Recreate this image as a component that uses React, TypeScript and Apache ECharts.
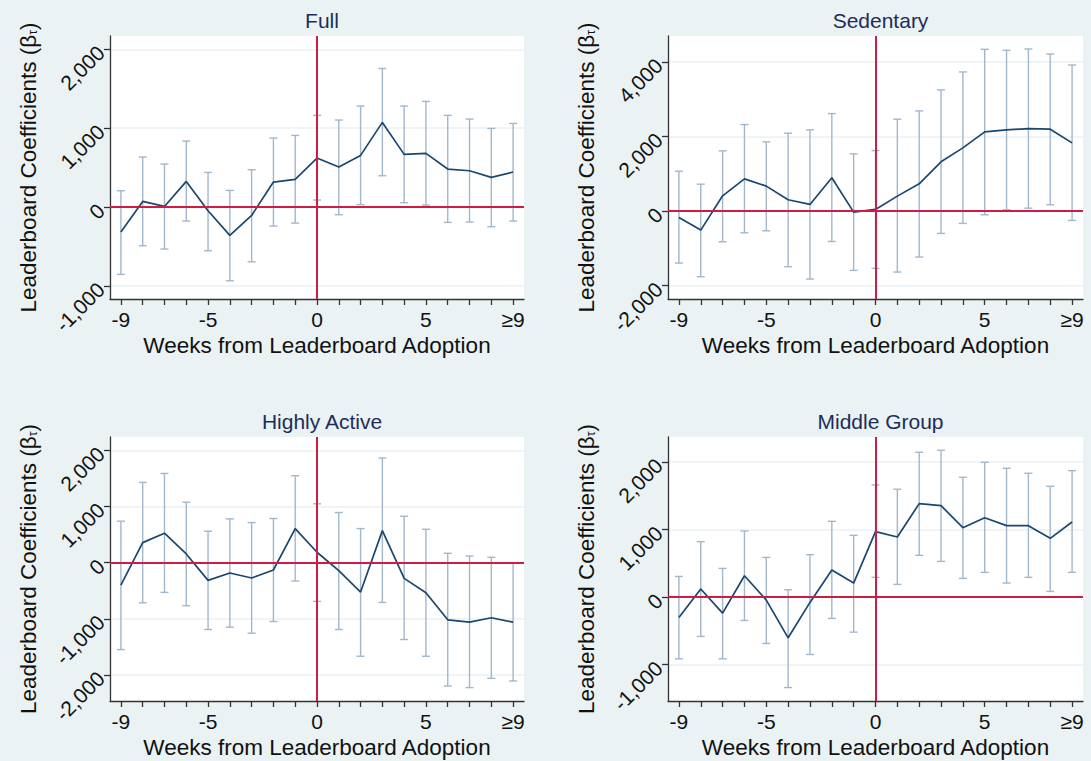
import React, { useEffect, useRef } from "react";
import * as echarts from "echarts";

const weeks = [-9, -8, -7, -6, -5, -4, -3, -2, -1, 0, 1, 2, 3, 4, 5, 6, 7, 8, 9];
const xTickLabels = [-9, -5, 0, 5, 9];
const panelTitles = ["Full", "Sedentary", "Highly Active", "Middle Group"];

const fullCoef = [-317, 72, 8, 325, -46, -359, -106, 317, 351, 621, 507, 655, 1073, 668, 680, 482, 460, 376, 444];
const fullHigh = [207, 634, 545, 836, 439, 211, 473, 874, 908, 1162, 1103, 1280, 1757, 1280, 1339, 1162, 1115, 997, 1060];
const fullLow = [-853, -490, -532, -177, -553, -934, -693, -241, -203, 89, -97, 30, 397, 55, 25, -194, -190, -249, -177];
const fullYTicks = [-1000, 0, 1000, 2000];

const sedCoef = [-170, -509, 411, 866, 670, 304, 179, 893, -27, 45, 402, 732, 1322, 1697, 2125, 2179, 2215, 2197, 1831];
const sedHigh = [1072, 723, 1616, 2322, 1857, 2090, 2179, 2617, 1536, 1625, 2465, 2688, 3251, 3733, 4340, 4313, 4349, 4215, 3920];
const sedLow = [-1393, -1759, -822, -580, -527, -1491, -1822, -813, -1590, -1536, -1634, -1232, -598, -330, -98, 36, 80, 170, -250];
const sedYTicks = [-2000, 0, 2000, 4000];

const actCoef = [-399, 357, 524, 155, -315, -185, -274, -131, 607, 185, -143, -524, 571, -280, -536, -1018, -1060, -982, -1060];
const actHigh = [738, 1429, 1589, 1077, 560, 780, 714, 786, 1548, 1048, 893, 607, 1863, 827, 595, 167, 119, 95, -12];
const actLow = [-1548, -714, -530, -768, -1190, -1149, -1256, -1048, -327, -690, -1190, -1667, -708, -1369, -1667, -2196, -2226, -2060, -2107];
const actYTicks = [-2000, -1000, 0, 1000, 2000];

const midCoef = [-302, 119, -237, 316, -44, -603, -79, 400, 208, 969, 890, 1384, 1354, 1028, 1176, 1058, 1058, 870, 1112];
const midHigh = [306, 821, 425, 979, 588, 109, 628, 1122, 914, 1661, 1597, 2145, 2175, 1775, 1997, 1908, 1834, 1641, 1873];
const midLow = [-914, -583, -914, -346, -687, -1340, -850, -316, -519, 292, 188, 618, 529, 277, 366, 208, 292, 84, 366];
const midYTicks = [-1000, 0, 1000, 2000];

const FONT = "'Liberation Sans', Arial, Helvetica, sans-serif";
const BG = "#eaf2f3";
const NAVY = "#1a476f";
const RED = "#cf1c45";
const BAR = "#a3b7cb";

export default function App() {
  const ref = useRef<HTMLDivElement>(null);
  useEffect(() => {
    document.body.style.margin = "0";
    if (!ref.current) return;
    const chart = echarts.init(ref.current, undefined, { renderer: "svg" });

    const panels = [
      { coef: fullCoef, low: fullLow, high: fullHigh, ticks: fullYTicks, min: -1165, max: 2168, left: 110, top: 36, width: 414, height: 263 },
      { coef: sedCoef, low: sedLow, high: sedHigh, ticks: sedYTicks, min: -2357, max: 4697, left: 668, top: 36, width: 415, height: 263 },
      { coef: actCoef, low: actLow, high: actHigh, ticks: actYTicks, min: -2464, max: 2238, left: 110, top: 437, width: 414, height: 264 },
      { coef: midCoef, low: midLow, high: midHigh, ticks: midYTicks, min: -1539, max: 2371, left: 668, top: 437, width: 415, height: 264 },
    ];

    const grid: any[] = [];
    const xAxis: any[] = [];
    const yAxis: any[] = [];
    const series: any[] = [];
    const title: any[] = [];

    panels.forEach((p, i) => {
      grid.push({ left: p.left, top: p.top, width: p.width, height: p.height, backgroundColor: "#ffffff", show: true, borderWidth: 0 });
      title.push({
        text: panelTitles[i],
        left: p.left + p.width / 2,
        top: p.top - 31,
        textAlign: "center",
        textStyle: { fontFamily: FONT, fontSize: 21, fontWeight: "normal", color: "#1c2d5c" },
      });
      xAxis.push({
        type: "value",
        gridIndex: i,
        min: -9.5,
        max: 9.5,
        name: "Weeks from Leaderboard Adoption",
        nameLocation: "middle",
        nameGap: 35,
        nameTextStyle: { fontFamily: FONT, fontSize: 22.5, color: "#111" },
        axisLine: { show: true, onZero: false, lineStyle: { color: "#333", width: 1.3 } },
        axisTick: { show: true, customValues: weeks, length: 6, lineStyle: { color: "#333", width: 1.3 } },
        axisLabel: {
          customValues: xTickLabels,
          margin: 10,
          fontFamily: FONT,
          fontSize: 21,
          color: "#111",
          formatter: (v: number) => (v === 9 ? "≥9" : String(v)),
        },
        splitLine: { show: false },
      });
      yAxis.push({
        type: "value",
        gridIndex: i,
        min: p.min,
        max: p.max,
        name: "Leaderboard Coefficients (β{s|τ})",
        nameLocation: "middle",
        nameGap: 70,
        nameRotate: 90,
        nameTextStyle: {
          fontFamily: FONT,
          fontSize: 22.5,
          color: "#111",
          rich: { s: { fontFamily: FONT, fontSize: 12, color: "#111", padding: [9, 0, 0, 0] } },
        },
        axisLine: { show: true, onZero: false, lineStyle: { color: "#333", width: 1.3 } },
        axisTick: { show: true, customValues: p.ticks, length: 6, lineStyle: { color: "#333", width: 1.3 } },
        axisLabel: { customValues: p.ticks, rotate: 45, margin: 9, fontFamily: FONT, fontSize: 21, color: "#111" },
        splitLine: { show: true, lineStyle: { color: BG, width: 1.6 } },
      });
      series.push({
        type: "custom",
        xAxisIndex: i,
        yAxisIndex: i,
        z: 2,
        data: weeks.map((w, k) => [w, p.low[k], p.high[k]]),
        encode: { x: 0, y: [1, 2] },
        renderItem: (_params: any, api: any) => {
          const x = api.value(0);
          const a = api.coord([x, api.value(1)]);
          const b = api.coord([x, api.value(2)]);
          const hw = 4;
          const style = { stroke: BAR, lineWidth: 1.4, fill: "none" };
          return {
            type: "group",
            children: [
              { type: "line", shape: { x1: a[0], y1: a[1], x2: b[0], y2: b[1] }, style },
              { type: "line", shape: { x1: a[0] - hw, y1: a[1], x2: a[0] + hw, y2: a[1] }, style },
              { type: "line", shape: { x1: b[0] - hw, y1: b[1], x2: b[0] + hw, y2: b[1] }, style },
            ],
          };
        },
        markLine: {
          silent: true,
          symbol: ["none", "none"],
          label: { show: false },
          lineStyle: { color: RED, width: 2, type: "solid" },
          data: [{ xAxis: 0 }, { yAxis: 0 }],
        },
      });
      series.push({
        type: "line",
        xAxisIndex: i,
        yAxisIndex: i,
        z: 3,
        showSymbol: false,
        symbol: "none",
        data: weeks.map((w, k) => [w, p.coef[k]]),
        lineStyle: { color: NAVY, width: 1.7 },
        itemStyle: { color: NAVY },
      });
    });

    chart.setOption({
      animation: false,
      backgroundColor: BG,
      title,
      grid,
      xAxis,
      yAxis,
      series,
    });
    return () => chart.dispose();
  }, []);
  return <div ref={ref} style={{ width: 1091, height: 761 }} />;
}
